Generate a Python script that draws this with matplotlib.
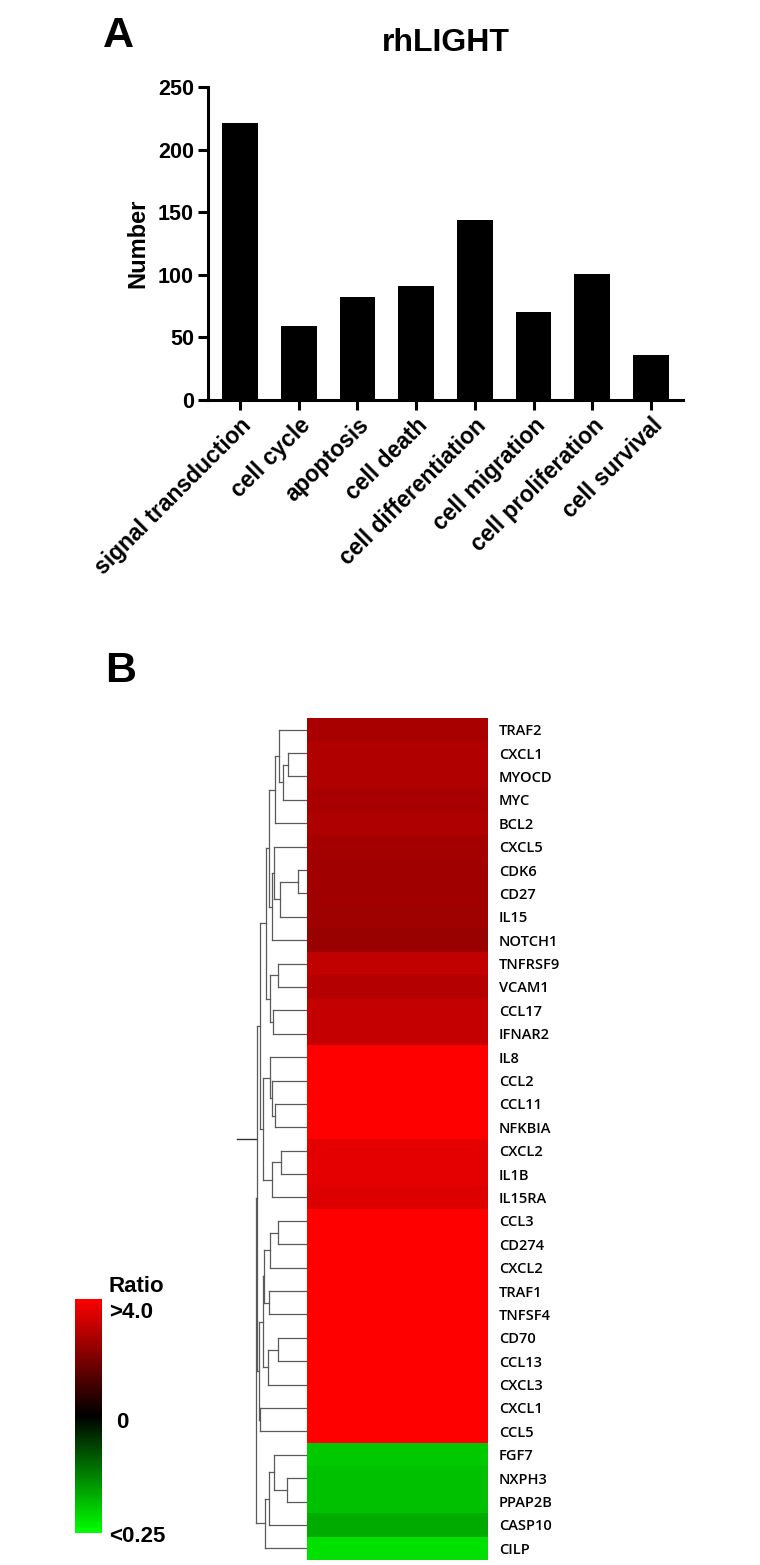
import matplotlib
matplotlib.use("Agg")
import matplotlib.pyplot as plt
from matplotlib.colors import LinearSegmentedColormap
import numpy as np

# panel A data
categories = ["signal transduction", "cell cycle", "apoptosis", "cell death",
              "cell differentiation", "cell migration", "cell proliferation", "cell survival"]
counts = [221, 59, 82, 91, 144, 70, 101, 36]

# panel B data (log2 ratio, clipped at +/-2 by the colour scale)
genes = ["TRAF2", "CXCL1", "MYOCD", "MYC", "BCL2", "CXCL5", "CDK6", "CD27", "IL15", "NOTCH1",
         "TNFRSF9", "VCAM1", "CCL17", "IFNAR2", "IL8", "CCL2", "CCL11", "NFKBIA", "CXCL2",
         "IL1B", "IL15RA", "CCL3", "CD274", "CXCL2", "TRAF1", "TNFSF4", "CD70", "CCL13",
         "CXCL3", "CXCL1", "CCL5", "FGF7", "NXPH3", "PPAP2B", "CASP10", "CILP"]
log_ratio = [1.32, 1.38, 1.38, 1.32, 1.36, 1.29, 1.25, 1.25, 1.24, 1.19,
             1.51, 1.41, 1.54, 1.54, 2.2, 2.2, 2.2, 2.2, 1.79,
             1.79, 1.73, 2.2, 2.2, 2.2, 2.2, 2.2, 2.2, 2.2,
             2.2, 2.2, 2.2, -1.57, -1.51, -1.51, -1.33, -1.76]

# dendrogram merges: (left, right, height); ids >= 36 refer to earlier merges
merges = [(1, 2, 19), (36, 3, 24), (0, 37, 28), (38, 4, 32),
          (6, 7, 9), (40, 8, 27), (5, 41, 33), (42, 9, 35),
          (39, 43, 38),
          (10, 11, 29), (12, 13, 34), (45, 46, 37),
          (44, 47, 41),
          (16, 17, 32), (15, 49, 35), (14, 50, 37), (18, 19, 26), (52, 20, 35),
          (51, 53, 44),
          (48, 54, 47),
          (21, 22, 29), (56, 23, 37), (24, 25, 38), (57, 58, 43),
          (26, 27, 29), (60, 28, 39), (59, 61, 44), (29, 30, 47), (62, 63, 48),
          (55, 64, 50),
          (32, 33, 20), (31, 66, 33), (67, 34, 38), (68, 35, 42),
          (65, 69, 51)]

plt.rcParams["font.family"] = ["Liberation Sans", "DejaVu Sans"]

fig = plt.figure(figsize=(7.6, 15.65), dpi=100)

# ---- panel A ----
ax = fig.add_axes([208/760, 1 - 400/1565, 475/760, 313/1565])
x = np.arange(len(categories))
ax.bar(x, counts, width=0.61, color="black")
ax.set_xlim(-0.545, len(categories) - 1 + 0.545)
ax.set_ylim(0, 250)
ax.set_yticks([0, 50, 100, 150, 200, 250])
ax.set_xticks(x)
ax.set_xticklabels(categories, rotation=45, ha="right", rotation_mode="anchor",
                   fontsize=16.5, fontweight="bold")
for lab in ax.get_yticklabels():
    lab.set_fontweight("bold")
    lab.set_fontsize(15.5)
ax.tick_params(width=2.2, length=7, direction="out", pad=3)
for s in ["top", "right"]:
    ax.spines[s].set_visible(False)
for s in ["left", "bottom"]:
    ax.spines[s].set_linewidth(2.2)
ax.set_ylabel("Number", fontsize=17, fontweight="bold", labelpad=6)
ax.set_title("rhLIGHT", fontsize=23, fontweight="bold", pad=26)
fig.text(103/760, 1 - 36/1565, "A", fontsize=31, fontweight="bold", va="center")

# ---- panel B ----
fig.text(105/760, 1 - 671/1565, "B", fontsize=31, fontweight="bold", va="center")

cmap = LinearSegmentedColormap.from_list("gkr", ["#00FF00", "#000000", "#FF0000"])
n = len(genes)

hax = fig.add_axes([307/760, 1 - 1560/1565, 181/760, 842/1565])
hax.imshow(np.array(log_ratio).reshape(-1, 1), cmap=cmap, vmin=-2, vmax=2,
           aspect="auto", interpolation="nearest", extent=(0, 1, n, 0))
hax.set_xlim(0, 1)
hax.set_ylim(n, 0)
hax.set_xticks([])
hax.yaxis.tick_right()
hax.set_yticks(np.arange(n) + 0.5)
hax.set_yticklabels(genes, family=["Open Sans", "DejaVu Sans"], fontsize=10.5,
                    fontweight="semibold")
hax.tick_params(axis="y", length=0, pad=8)
for s in hax.spines.values():
    s.set_visible(False)

# dendrogram
dax = fig.add_axes([230/760, 1 - 1560/1565, 77/760, 842/1565])
pos = {i: i + 0.5 for i in range(n)}
hgt = {i: 0.0 for i in range(n)}
for k, (a, b, h) in enumerate(merges):
    node = n + k
    for c in (a, b):
        dax.plot([hgt[c], h], [pos[c], pos[c]], color="#5a5a5a", lw=0.9)
    dax.plot([h, h], [pos[a], pos[b]], color="#5a5a5a", lw=0.9)
    pos[node] = (pos[a] + pos[b]) / 2
    hgt[node] = h
root_h = merges[-1][2]
mid = n / 2
dax.plot([root_h, 70], [mid, mid], color="#333333", lw=1.0)
dax.set_xlim(77, 0)
dax.set_ylim(n, 0)
dax.axis("off")

# colour key
cax = fig.add_axes([75/760, 1 - 1533/1565, 27/760, 234/1565])
grad = np.linspace(2, -2, 256).reshape(-1, 1)
cax.imshow(grad, cmap=cmap, vmin=-2, vmax=2, aspect="auto")
cax.set_xticks([])
cax.set_yticks([])
for s in cax.spines.values():
    s.set_visible(False)
fig.text(109/760, 1 - 1287/1565, "Ratio", fontsize=16, fontweight="bold", va="center")
fig.text(109/760, 1 - 1312/1565, ">4.0", fontsize=16, fontweight="bold", va="center")
fig.text(116/760, 1 - 1422/1565, "0", fontsize=16, fontweight="bold", va="center")
fig.text(109/760, 1 - 1537/1565, "<0.25", fontsize=16, fontweight="bold", va="center")

fig.savefig("out.png", dpi=100, facecolor="white")
